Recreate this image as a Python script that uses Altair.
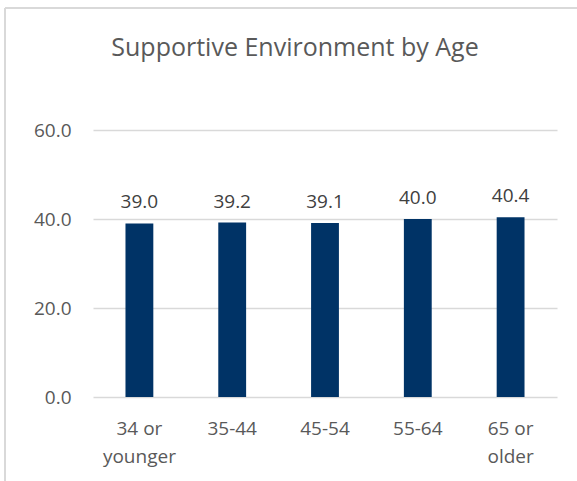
import altair as alt
import pandas as pd

ages = ["34 or younger", "35-44", "45-54", "55-64", "65 or older"]
scores = [39.0, 39.2, 39.1, 40.0, 40.4]
y_ticks = [0, 20, 40, 60]
title_text = ["Supportive Environment by Age"]

df = pd.DataFrame({"age": ages, "score": scores})
tdf = pd.DataFrame({"t": title_text})

FONT = "Open Sans"
GREY = "#595959"

base = alt.Chart(df)

label_expr = (
    "indexof(datum.label,' or ')>=0 ? "
    "[substring(datum.label,0,indexof(datum.label,' or ')+3), "
    "substring(datum.label,indexof(datum.label,' or ')+4)] : datum.label"
)

x = alt.X("age:N", sort=ages, title=None,
          scale=alt.Scale(paddingInner=0.7, paddingOuter=0.35),
          axis=alt.Axis(labelExpr=label_expr, labelAngle=0, domain=False, ticks=False,
                        labelFont=FONT, labelFontSize=19, labelColor=GREY,
                        labelPadding=22, labelLineHeight=28))
y = alt.Y("score:Q", title=None,
          scale=alt.Scale(domain=[0, 60]),
          axis=alt.Axis(values=y_ticks, format=".1f", domain=False, ticks=False,
                        grid=True, gridColor="#d9d9d9", gridWidth=1.3,
                        labelFont=FONT, labelFontSize=19, labelColor=GREY,
                        labelPadding=22))

bars = base.mark_bar(color="#003366").encode(x=x, y=y)
labels = base.mark_text(baseline="bottom", dy=-11, font=FONT, fontSize=19, color="#404040").encode(
    x=alt.X("age:N", sort=ages), y="score:Q", text=alt.Text("score:Q", format=".1f"))

title = alt.Chart(tdf).mark_text(font=FONT, fontSize=25, color=GREY, baseline="middle",
                                 align="center").encode(
    x=alt.value(202), y=alt.value(-82), text="t:N")

border_v = alt.Chart(tdf).mark_rule(color="#d9d9d9", strokeWidth=2).encode(
    x=alt.value(-88), y=alt.value(-122), y2=alt.value(400))
border_h = alt.Chart(tdf).mark_rule(color="#d9d9d9", strokeWidth=2).encode(
    x=alt.value(-88), x2=alt.value(500), y=alt.value(-122))

chart = alt.layer(border_v, border_h, bars, labels, title).properties(
    width=464, height=267,
    padding={"left": 93, "top": 130, "right": 20, "bottom": 84},
    autosize=alt.AutoSizeParams(type="none"),
    background="white",
).configure_view(stroke=None)

chart.save("out.html", embed_options={"renderer": "svg", "actions": False})
